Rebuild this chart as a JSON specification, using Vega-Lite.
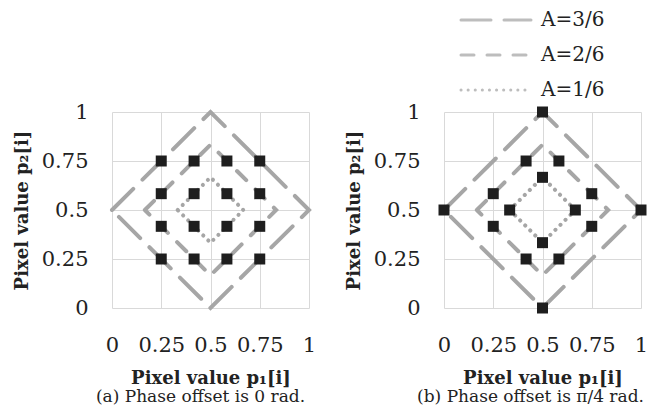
{
  "$schema": "https://vega.github.io/schema/vega-lite/v6.json",
  "background": "white",
  "padding": {"left": 13, "right": 0, "top": 10, "bottom": 5},
  "datasets": {
    "lines": [
      {"panel": "a", "A": "A=3/6", "o": 0, "x": 0, "y": 0.5},
      {"panel": "a", "A": "A=3/6", "o": 1, "x": 0.5, "y": 1},
      {"panel": "a", "A": "A=3/6", "o": 2, "x": 1, "y": 0.5},
      {"panel": "a", "A": "A=3/6", "o": 3, "x": 0.5, "y": 0},
      {"panel": "a", "A": "A=3/6", "o": 4, "x": 0, "y": 0.5},
      {"panel": "a", "A": "A=2/6", "o": 0, "x": 0.1667, "y": 0.5},
      {"panel": "a", "A": "A=2/6", "o": 1, "x": 0.5, "y": 0.8333},
      {"panel": "a", "A": "A=2/6", "o": 2, "x": 0.8333, "y": 0.5},
      {"panel": "a", "A": "A=2/6", "o": 3, "x": 0.5, "y": 0.1667},
      {"panel": "a", "A": "A=2/6", "o": 4, "x": 0.1667, "y": 0.5},
      {"panel": "a", "A": "A=1/6", "o": 0, "x": 0.3333, "y": 0.5},
      {"panel": "a", "A": "A=1/6", "o": 1, "x": 0.5, "y": 0.6667},
      {"panel": "a", "A": "A=1/6", "o": 2, "x": 0.6667, "y": 0.5},
      {"panel": "a", "A": "A=1/6", "o": 3, "x": 0.5, "y": 0.3333},
      {"panel": "a", "A": "A=1/6", "o": 4, "x": 0.3333, "y": 0.5},
      {"panel": "b", "A": "A=3/6", "o": 0, "x": 0, "y": 0.5},
      {"panel": "b", "A": "A=3/6", "o": 1, "x": 0.5, "y": 1},
      {"panel": "b", "A": "A=3/6", "o": 2, "x": 1, "y": 0.5},
      {"panel": "b", "A": "A=3/6", "o": 3, "x": 0.5, "y": 0},
      {"panel": "b", "A": "A=3/6", "o": 4, "x": 0, "y": 0.5},
      {"panel": "b", "A": "A=2/6", "o": 0, "x": 0.1667, "y": 0.5},
      {"panel": "b", "A": "A=2/6", "o": 1, "x": 0.5, "y": 0.8333},
      {"panel": "b", "A": "A=2/6", "o": 2, "x": 0.8333, "y": 0.5},
      {"panel": "b", "A": "A=2/6", "o": 3, "x": 0.5, "y": 0.1667},
      {"panel": "b", "A": "A=2/6", "o": 4, "x": 0.1667, "y": 0.5},
      {"panel": "b", "A": "A=1/6", "o": 0, "x": 0.3333, "y": 0.5},
      {"panel": "b", "A": "A=1/6", "o": 1, "x": 0.5, "y": 0.6667},
      {"panel": "b", "A": "A=1/6", "o": 2, "x": 0.6667, "y": 0.5},
      {"panel": "b", "A": "A=1/6", "o": 3, "x": 0.5, "y": 0.3333},
      {"panel": "b", "A": "A=1/6", "o": 4, "x": 0.3333, "y": 0.5}
    ],
    "pts": [
      {"panel": "a", "x": 0.25, "y": 0.75}, {"panel": "a", "x": 0.4167, "y": 0.75}, {"panel": "a", "x": 0.5833, "y": 0.75}, {"panel": "a", "x": 0.75, "y": 0.75},
      {"panel": "a", "x": 0.25, "y": 0.5833}, {"panel": "a", "x": 0.4167, "y": 0.5833}, {"panel": "a", "x": 0.5833, "y": 0.5833}, {"panel": "a", "x": 0.75, "y": 0.5833},
      {"panel": "a", "x": 0.25, "y": 0.4167}, {"panel": "a", "x": 0.4167, "y": 0.4167}, {"panel": "a", "x": 0.5833, "y": 0.4167}, {"panel": "a", "x": 0.75, "y": 0.4167},
      {"panel": "a", "x": 0.25, "y": 0.25}, {"panel": "a", "x": 0.4167, "y": 0.25}, {"panel": "a", "x": 0.5833, "y": 0.25}, {"panel": "a", "x": 0.75, "y": 0.25},
      {"panel": "b", "x": 0.5, "y": 1}, {"panel": "b", "x": 1, "y": 0.5}, {"panel": "b", "x": 0.5, "y": 0}, {"panel": "b", "x": 0, "y": 0.5},
      {"panel": "b", "x": 0.4167, "y": 0.75}, {"panel": "b", "x": 0.5833, "y": 0.75}, {"panel": "b", "x": 0.75, "y": 0.5833}, {"panel": "b", "x": 0.75, "y": 0.4167},
      {"panel": "b", "x": 0.5833, "y": 0.25}, {"panel": "b", "x": 0.4167, "y": 0.25}, {"panel": "b", "x": 0.25, "y": 0.4167}, {"panel": "b", "x": 0.25, "y": 0.5833},
      {"panel": "b", "x": 0.5, "y": 0.6667}, {"panel": "b", "x": 0.6667, "y": 0.5}, {"panel": "b", "x": 0.5, "y": 0.3333}, {"panel": "b", "x": 0.3333, "y": 0.5}
    ]
  },
  "hconcat": [
    {
      "width": 197,
      "height": 196,
      "title": {"text": "(a) Phase offset is 0 rad.", "orient": "bottom", "dx": -10, "offset": 2},
      "layer": [
        {
          "data": {"name": "lines"},
          "transform": [{"filter": "datum.panel === 'a'"}],
          "mark": {"type": "line", "color": "#a6a6a6", "strokeWidth": 4, "strokeCap": "round"},
          "encoding": {
            "x": {"field": "x", "type": "quantitative", "scale": {"domain": [0, 1], "nice": false}, "axis": {"values": [0, 0.25, 0.5, 0.75, 1], "format": ".2~f", "title": "Pixel value p₁[i]"}},
            "y": {"field": "y", "type": "quantitative", "scale": {"domain": [0, 1], "nice": false}, "axis": {"values": [0, 0.25, 0.5, 0.75, 1], "format": ".2~f", "title": "Pixel value p₂[i]"}},
            "order": {"field": "o", "type": "quantitative"},
            "strokeDash": {
              "field": "A", "type": "nominal",
              "scale": {"domain": ["A=3/6", "A=2/6", "A=1/6"], "range": [[30, 13], [13, 13], [0.1, 7]]},
              "legend": {
                "orient": "none", "legendX": 374, "legendY": -102,
                "encode": {"symbols": {"update": {"strokeDash": {"signal": "datum.value === 'A=3/6' ? [18, 10] : datum.value === 'A=2/6' ? [8, 10] : [0.1, 8]"}, "strokeCap": {"value": "round"}}}}
              }
            }
          }
        },
        {
          "data": {"name": "pts"},
          "transform": [{"filter": "datum.panel === 'a'"}],
          "mark": {"type": "square", "filled": true, "size": 121, "color": "#1e1e1e", "opacity": 1},
          "encoding": {
            "x": {"field": "x", "type": "quantitative"},
            "y": {"field": "y", "type": "quantitative"}
          }
        }
      ]
    },
    {
      "width": 197,
      "height": 196,
      "title": {"text": "(b) Phase offset is π/4 rad.", "orient": "bottom", "dx": -12, "offset": 2},
      "layer": [
        {
          "data": {"name": "lines"},
          "transform": [{"filter": "datum.panel === 'b'"}],
          "mark": {"type": "line", "color": "#a6a6a6", "strokeWidth": 4, "strokeCap": "round"},
          "encoding": {
            "x": {"field": "x", "type": "quantitative", "scale": {"domain": [0, 1], "nice": false}, "axis": {"values": [0, 0.25, 0.5, 0.75, 1], "format": ".2~f", "title": "Pixel value p₁[i]"}},
            "y": {"field": "y", "type": "quantitative", "scale": {"domain": [0, 1], "nice": false}, "axis": {"values": [0, 0.25, 0.5, 0.75, 1], "format": ".2~f", "title": "Pixel value p₂[i]"}},
            "order": {"field": "o", "type": "quantitative"},
            "strokeDash": {
              "field": "A", "type": "nominal",
              "scale": {"domain": ["A=3/6", "A=2/6", "A=1/6"], "range": [[30, 13], [13, 13], [0.1, 7]]},
              "legend": {
                "orient": "none", "legendX": 374, "legendY": -102,
                "encode": {"symbols": {"update": {"strokeDash": {"signal": "datum.value === 'A=3/6' ? [18, 10] : datum.value === 'A=2/6' ? [8, 10] : [0.1, 8]"}, "strokeCap": {"value": "round"}}}}
              }
            }
          }
        },
        {
          "data": {"name": "pts"},
          "transform": [{"filter": "datum.panel === 'b'"}],
          "mark": {"type": "square", "filled": true, "size": 121, "color": "#1e1e1e", "opacity": 1},
          "encoding": {
            "x": {"field": "x", "type": "quantitative"},
            "y": {"field": "y", "type": "quantitative"}
          }
        }
      ]
    }
  ],
  "spacing": 135,
  "bounds": "flush",
  "resolve": {"scale": {"strokeDash": "shared"}, "legend": {"strokeDash": "shared"}},
  "config": {
    "font": "DejaVu Serif",
    "view": {"stroke": null},
    "axis": {
      "domain": false, "ticks": false, "grid": true, "gridColor": "#d9d9d9", "gridWidth": 1,
      "labelFont": "DejaVu Serif", "labelFontSize": 21, "labelColor": "#222222", "labelFlush": false, "labelOverlap": false,
      "titleFont": "DejaVu Serif", "titleFontSize": 18, "titleFontWeight": "bold", "titleColor": "#222222"
    },
    "axisX": {"labelPadding": 26, "titlePadding": 14, "labelAngle": 0},
    "axisY": {"labelPadding": 24, "titlePadding": 10},
    "legend": {
      "title": null, "symbolType": "M-5,0H5", "symbolSize": 196, "symbolStrokeWidth": 3, "symbolStrokeColor": "#bdbdbd", "symbolFillColor": "transparent",
      "labelFont": "DejaVu Serif", "labelFontSize": 20, "labelColor": "#222222", "labelOffset": 35, "rowPadding": 15, "padding": 0, "direction": "vertical"
    },
    "title": {"font": "DejaVu Serif", "fontSize": 17, "fontWeight": "normal", "color": "#222222"}
  }
}
